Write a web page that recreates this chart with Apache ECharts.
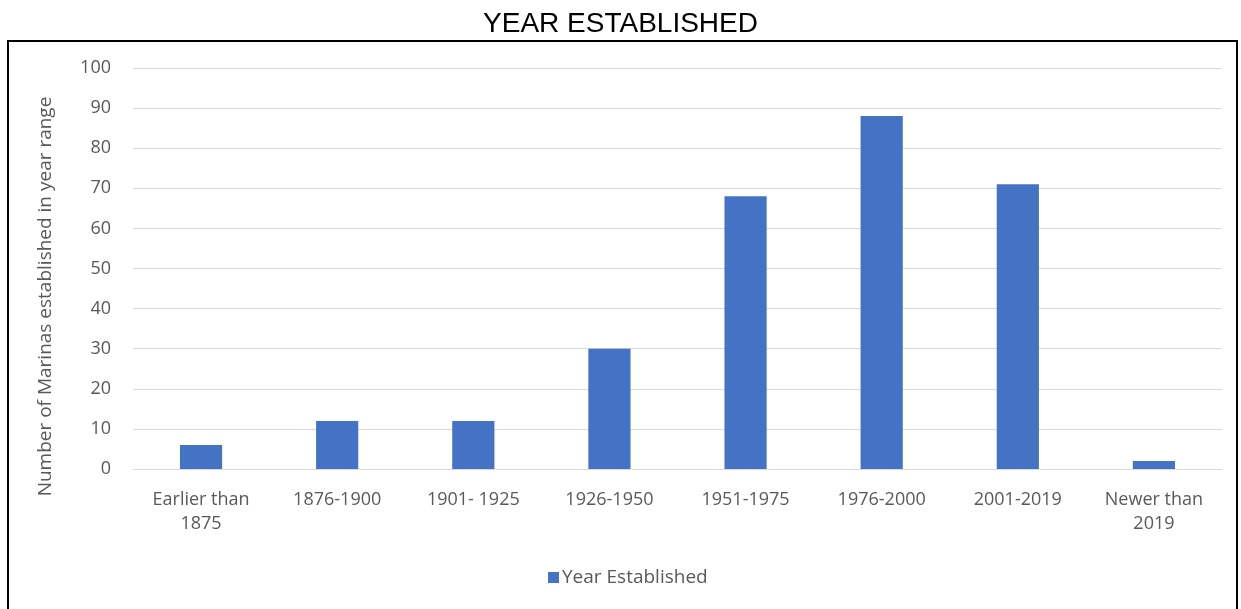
<!DOCTYPE html>
<html>
<head>
<meta charset="utf-8">
<script src="https://cdn.jsdelivr.net/npm/echarts@6/dist/echarts.min.js"></script>
<style>
  html, body { margin: 0; padding: 0; background: #fff; }
  #chart { width: 1241px; height: 609px; }
</style>
</head>
<body>
<div id="chart"></div>
<script>
// year ranges on the x axis
var categories = ['Earlier than\n1875', '1876-1900', '1901- 1925', '1926-1950',
                  '1951-1975', '1976-2000', '2001-2019', 'Newer than\n2019'];
// number of marinas per range
var counts = [6, 12, 12, 30, 68, 88, 71, 2];
var seriesName = 'Year Established';

var chart = echarts.init(document.getElementById('chart'));

var option = {
    backgroundColor: '#fff',
    animation: false,
    title: {
        text: 'YEAR ESTABLISHED',
        left: 'center',
        top: 5,
        textStyle: {
            fontFamily: 'Liberation Sans',
            fontWeight: 'normal',
            fontSize: 28,
            color: '#000'
        }
    },
    graphic: [{
        type: 'rect',
        shape: { x: 8, y: 41, width: 1229, height: 580 },
        style: { fill: 'none', stroke: '#000', lineWidth: 2 },
        silent: true
    }],
    legend: {
        data: [seriesName],
        bottom: 17,
        left: 543,
        itemWidth: 11,
        itemHeight: 11,
        itemGap: 3,
        icon: 'rect',
        textStyle: { fontFamily: 'Open Sans', fontSize: 19, color: '#595959', padding: [0, 0, 0, -2] }
    },
    grid: {
        left: 133,
        right: 19,
        top: 68,
        bottom: 140
    },
    xAxis: {
        type: 'category',
        data: categories,
        axisLine: { lineStyle: { color: '#d9d9d9', width: 1 } },
        axisTick: { show: false },
        axisLabel: {
            fontFamily: 'Open Sans',
            fontSize: 18,
            color: '#595959',
            margin: 19,
            lineHeight: 24,
            interval: 0
        }
    },
    yAxis: {
        type: 'value',
        min: 0,
        max: 100,
        interval: 10,
        name: 'Number of Marinas established in year range',
        nameLocation: 'middle',
        nameGap: 78,
        nameTextStyle: {
            fontFamily: 'Open Sans',
            fontSize: 19,
            color: '#595959',
            padding: [0, 56, 0, 0]
        },
        axisLine: { show: false },
        axisTick: { show: false },
        axisLabel: {
            fontFamily: 'Open Sans',
            fontSize: 18,
            color: '#595959',
            margin: 22
        },
        splitLine: { lineStyle: { color: '#d9d9d9', width: 1 } }
    },
    series: [{
        name: seriesName,
        type: 'bar',
        data: counts,
        barWidth: '31%',
        itemStyle: { color: '#4472c4' }
    }]
};

chart.setOption(option);
</script>
</body>
</html>
